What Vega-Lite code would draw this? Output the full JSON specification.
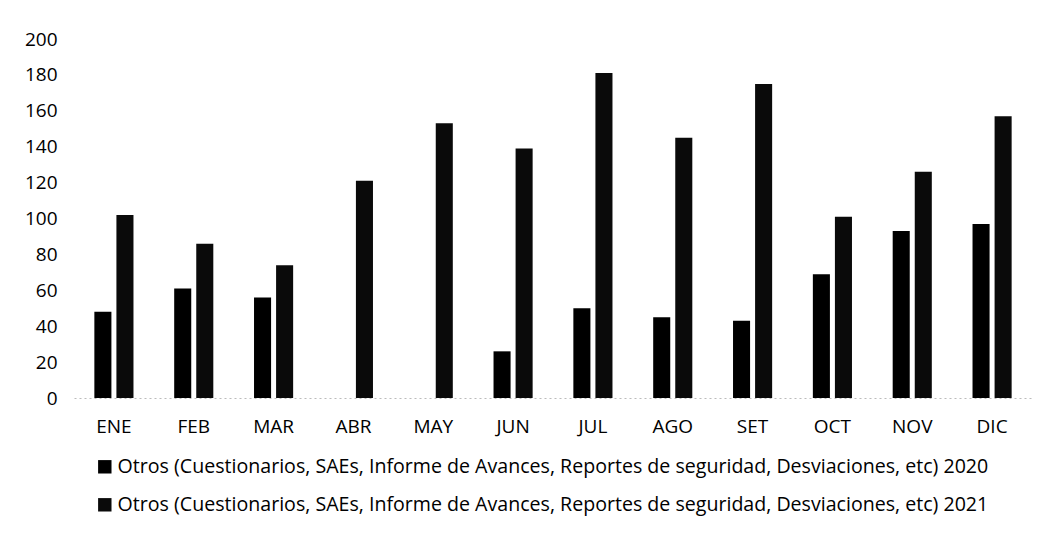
{
  "$schema": "https://vega.github.io/schema/vega-lite/v6.json",
  "width": 958,
  "height": 359,
  "padding": {"left": 14, "top": 30, "right": 10, "bottom": 5},
  "background": "white",
  "config": {
    "view": {"stroke": null},
    "font": "Open Sans",
    "axis": {"labelFont": "Open Sans", "labelColor": "black", "labelFontSize": 19},
    "legend": {"labelFont": "Open Sans", "labelColor": "black", "labelFontSize": 19.6}
  },
  "data": {
    "values": [
      {"mes": "ENE", "serie": "Otros (Cuestionarios, SAEs, Informe de Avances, Reportes de seguridad, Desviaciones, etc) 2020", "valor": 48},
      {"mes": "ENE", "serie": "Otros (Cuestionarios, SAEs, Informe de Avances, Reportes de seguridad, Desviaciones, etc) 2021", "valor": 102},
      {"mes": "FEB", "serie": "Otros (Cuestionarios, SAEs, Informe de Avances, Reportes de seguridad, Desviaciones, etc) 2020", "valor": 61},
      {"mes": "FEB", "serie": "Otros (Cuestionarios, SAEs, Informe de Avances, Reportes de seguridad, Desviaciones, etc) 2021", "valor": 86},
      {"mes": "MAR", "serie": "Otros (Cuestionarios, SAEs, Informe de Avances, Reportes de seguridad, Desviaciones, etc) 2020", "valor": 56},
      {"mes": "MAR", "serie": "Otros (Cuestionarios, SAEs, Informe de Avances, Reportes de seguridad, Desviaciones, etc) 2021", "valor": 74},
      {"mes": "ABR", "serie": "Otros (Cuestionarios, SAEs, Informe de Avances, Reportes de seguridad, Desviaciones, etc) 2020", "valor": 0},
      {"mes": "ABR", "serie": "Otros (Cuestionarios, SAEs, Informe de Avances, Reportes de seguridad, Desviaciones, etc) 2021", "valor": 121},
      {"mes": "MAY", "serie": "Otros (Cuestionarios, SAEs, Informe de Avances, Reportes de seguridad, Desviaciones, etc) 2020", "valor": 0},
      {"mes": "MAY", "serie": "Otros (Cuestionarios, SAEs, Informe de Avances, Reportes de seguridad, Desviaciones, etc) 2021", "valor": 153},
      {"mes": "JUN", "serie": "Otros (Cuestionarios, SAEs, Informe de Avances, Reportes de seguridad, Desviaciones, etc) 2020", "valor": 26},
      {"mes": "JUN", "serie": "Otros (Cuestionarios, SAEs, Informe de Avances, Reportes de seguridad, Desviaciones, etc) 2021", "valor": 139},
      {"mes": "JUL", "serie": "Otros (Cuestionarios, SAEs, Informe de Avances, Reportes de seguridad, Desviaciones, etc) 2020", "valor": 50},
      {"mes": "JUL", "serie": "Otros (Cuestionarios, SAEs, Informe de Avances, Reportes de seguridad, Desviaciones, etc) 2021", "valor": 181},
      {"mes": "AGO", "serie": "Otros (Cuestionarios, SAEs, Informe de Avances, Reportes de seguridad, Desviaciones, etc) 2020", "valor": 45},
      {"mes": "AGO", "serie": "Otros (Cuestionarios, SAEs, Informe de Avances, Reportes de seguridad, Desviaciones, etc) 2021", "valor": 145},
      {"mes": "SET", "serie": "Otros (Cuestionarios, SAEs, Informe de Avances, Reportes de seguridad, Desviaciones, etc) 2020", "valor": 43},
      {"mes": "SET", "serie": "Otros (Cuestionarios, SAEs, Informe de Avances, Reportes de seguridad, Desviaciones, etc) 2021", "valor": 175},
      {"mes": "OCT", "serie": "Otros (Cuestionarios, SAEs, Informe de Avances, Reportes de seguridad, Desviaciones, etc) 2020", "valor": 69},
      {"mes": "OCT", "serie": "Otros (Cuestionarios, SAEs, Informe de Avances, Reportes de seguridad, Desviaciones, etc) 2021", "valor": 101},
      {"mes": "NOV", "serie": "Otros (Cuestionarios, SAEs, Informe de Avances, Reportes de seguridad, Desviaciones, etc) 2020", "valor": 93},
      {"mes": "NOV", "serie": "Otros (Cuestionarios, SAEs, Informe de Avances, Reportes de seguridad, Desviaciones, etc) 2021", "valor": 126},
      {"mes": "DIC", "serie": "Otros (Cuestionarios, SAEs, Informe de Avances, Reportes de seguridad, Desviaciones, etc) 2020", "valor": 97},
      {"mes": "DIC", "serie": "Otros (Cuestionarios, SAEs, Informe de Avances, Reportes de seguridad, Desviaciones, etc) 2021", "valor": 157}
    ]
  },
  "mark": {"type": "bar"},
  "encoding": {
    "x": {
      "field": "mes", "type": "nominal", "sort": null,
      "scale": {"paddingInner": 0.51, "paddingOuter": 0.255},
      "axis": {"title": null, "labelAngle": 0, "ticks": false, "labelPadding": 19, "domainColor": "#bbbbbb", "domainDash": [2, 3], "domainWidth": 1}
    },
    "xOffset": {
      "field": "serie", "type": "nominal",
      "scale": {"paddingInner": 0.227, "paddingOuter": 0}
    },
    "y": {
      "field": "valor", "type": "quantitative",
      "scale": {"domain": [0, 200]},
      "axis": {"title": null, "grid": false, "domain": false, "ticks": false, "labelOverlap": false, "values": [0,20,40,60,80,100,120,140,160,180,200], "labelPadding": 17, "minExtent": 60, "maxExtent": 60}
    },
    "color": {
      "field": "serie", "type": "nominal",
      "scale": {"range": ["#000000", "#0a0a0a"]},
      "legend": {"title": null, "orient": "none", "legendX": 21, "legendY": 418, "direction": "vertical", "symbolType": "square", "symbolSize": 180, "symbolOffset": 0, "labelOffset": 3, "labelLimit": 1000, "rowPadding": 17, "padding": 0}
    }
  }
}
